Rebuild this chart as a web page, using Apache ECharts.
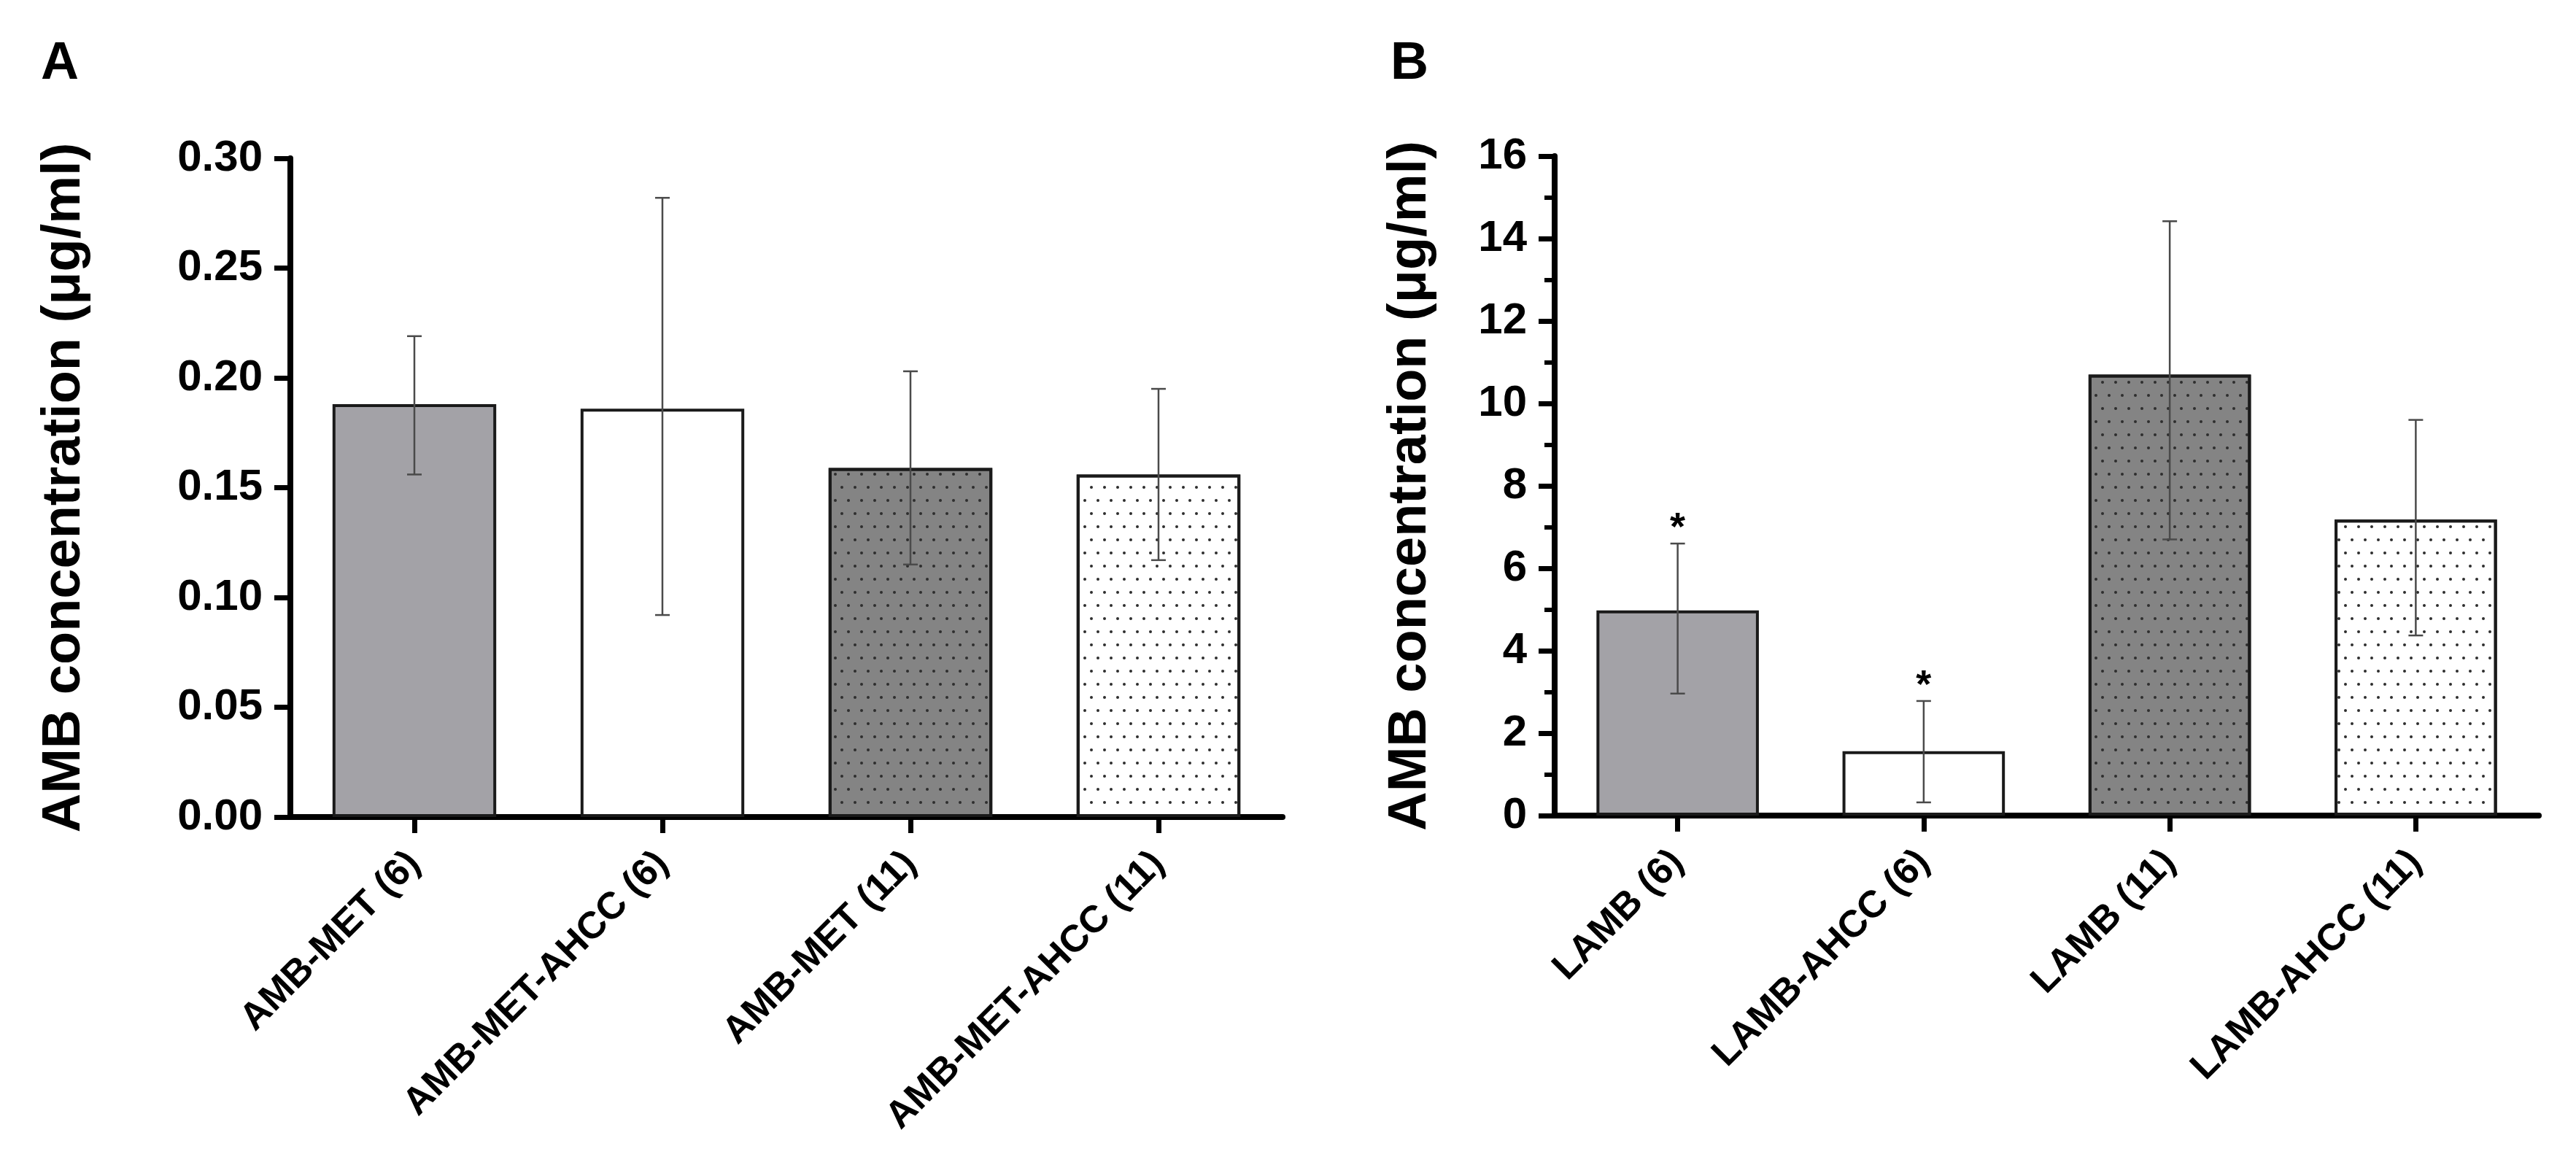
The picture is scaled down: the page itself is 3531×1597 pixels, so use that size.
<!DOCTYPE html>
<html>
<head>
<meta charset="utf-8">
<script src="https://cdn.jsdelivr.net/npm/echarts@6/dist/echarts.min.js"></script>
<style>
  html, body { margin: 0; padding: 0; background: #fff; }
  #root { width: 3531px; height: 1597px; }
</style>
</head>
<body>
<div id="root"></div>
<script>
// panel A
var catsA = ['AMB-MET (6)', 'AMB-MET-AHCC (6)', 'AMB-MET (11)', 'AMB-MET-AHCC (11)'];
var meanA = [0.188, 0.186, 0.159, 0.156];
var lowA = [0.156, 0.092, 0.115, 0.117];
var highA = [0.219, 0.282, 0.203, 0.195];

// panel B
var catsB = ['LAMB (6)', 'LAMB-AHCC (6)', 'LAMB (11)', 'LAMB-AHCC (11)'];
var meanB = [4.98, 1.56, 10.7, 7.18];
var lowB = [2.96, 0.32, 6.7, 4.37];
var highB = [6.6, 2.78, 14.42, 9.6];
var sigB = ['*', '*', '', ''];

var FONT = '"Liberation Sans", Arial, sans-serif';

// bar looks: plain grey, white, grey + dots, white + dots
var dots = {
  symbol: 'circle',
  symbolSize: 1,
  color: '#2e2e2e',
  dashArrayX: [[4, 14], [0, 9, 4, 5]],
  dashArrayY: [4, 14]
};
var looks = [
  { color: '#a3a2a7' },
  { color: '#ffffff' },
  { color: '#848484', decal: dots },
  { color: '#ffffff', decal: dots }
];

var barData = function (vals) {
  return vals.map(function (v, i) {
    return {
      value: v,
      itemStyle: {
        color: looks[i].color,
        borderColor: '#1a1a1a',
        borderWidth: 4,
        decal: looks[i].decal || null
      }
    };
  });
};

var errData = function (low, high) {
  return low.map(function (lo, i) {
    return [i, lo, high[i]];
  });
};

var errRender = function (sig) {
  return function (params, api) {
    var i = api.value(0);
    var top = api.coord([i, api.value(2)]);
    var bot = api.coord([i, api.value(1)]);
    var cap = 10;
    var st = { stroke: '#4a4a4a', lineWidth: 2.5 };
    var kids = [
      { type: 'line', shape: { x1: top[0], y1: top[1], x2: bot[0], y2: bot[1] }, style: st },
      { type: 'line', shape: { x1: top[0] - cap, y1: top[1], x2: top[0] + cap, y2: top[1] }, style: st },
      { type: 'line', shape: { x1: bot[0] - cap, y1: bot[1], x2: bot[0] + cap, y2: bot[1] }, style: st }
    ];
    if (sig && sig[params.dataIndex]) {
      kids.push({
        type: 'text',
        style: {
          text: sig[params.dataIndex],
          x: top[0], y: top[1] - 20,
          align: 'center', verticalAlign: 'middle',
          font: 'bold 54px ' + FONT,
          fill: '#000'
        }
      });
    }
    return { type: 'group', children: kids };
  };
};

var axisLine = { show: true, lineStyle: { color: '#000', width: 8 } };
var tickStyle = { color: '#000', width: 7 };

var xAxisCfg = function (cats, idx) {
  return {
    type: 'category',
    gridIndex: idx,
    data: cats,
    axisLine: axisLine,
    axisTick: { show: true, alignWithLabel: true, length: 22, lineStyle: tickStyle },
    axisLabel: {
      interval: 0, rotate: 45, margin: 56,
      fontSize: 52, fontWeight: 'bold', fontFamily: FONT, color: '#000'
    },
    splitLine: { show: false }
  };
};

var yAxisCfg = function (idx, max, step, digits, gap, minor) {
  return {
    type: 'value',
    gridIndex: idx,
    min: 0, max: max, interval: step,
    name: 'AMB concentration (\u03bcg/ml)',
    nameLocation: 'middle',
    nameGap: gap,
    nameTextStyle: { fontSize: 74, fontWeight: 'bold', fontFamily: FONT, color: '#000' },
    axisLine: axisLine,
    axisTick: { show: true, length: 22, lineStyle: tickStyle },
    minorTick: { show: minor, splitNumber: 2, length: 14, lineStyle: { color: '#000', width: 6 } },
    axisLabel: {
      margin: 38,
      fontSize: 60, fontWeight: 'bold', fontFamily: FONT, color: '#000',
      formatter: function (v) { return v.toFixed(digits); }
    },
    splitLine: { show: false },
    minorSplitLine: { show: false }
  };
};

var chart = echarts.init(document.getElementById('root'));

var option = {
  animation: false,
  backgroundColor: '#fff',
  grid: [
    { left: 398, right: 1773, top: 217, bottom: 477 },
    { left: 2131, right: 51, top: 214, bottom: 479 }
  ],
  xAxis: [xAxisCfg(catsA, 0), xAxisCfg(catsB, 1)],
  yAxis: [
    yAxisCfg(0, 0.30, 0.05, 2, 272, false),
    yAxisCfg(1, 16, 2, 0, 160, true)
  ],
  graphic: [
    { type: 'text', left: 56, top: 52, style: { text: 'A', font: 'bold 72px ' + FONT, fill: '#000' } },
    { type: 'text', left: 1906, top: 52, style: { text: 'B', font: 'bold 72px ' + FONT, fill: '#000' } }
  ],
  series: [
    { type: 'bar', xAxisIndex: 0, yAxisIndex: 0, barWidth: '66%', data: barData(meanA) },
    {
      type: 'custom', xAxisIndex: 0, yAxisIndex: 0, z: 5,
      renderItem: errRender(null), data: errData(lowA, highA)
    },
    { type: 'bar', xAxisIndex: 1, yAxisIndex: 1, barWidth: '66%', data: barData(meanB) },
    {
      type: 'custom', xAxisIndex: 1, yAxisIndex: 1, z: 5,
      renderItem: errRender(sigB), data: errData(lowB, highB)
    }
  ]
};

chart.setOption(option);
</script>
</body>
</html>
